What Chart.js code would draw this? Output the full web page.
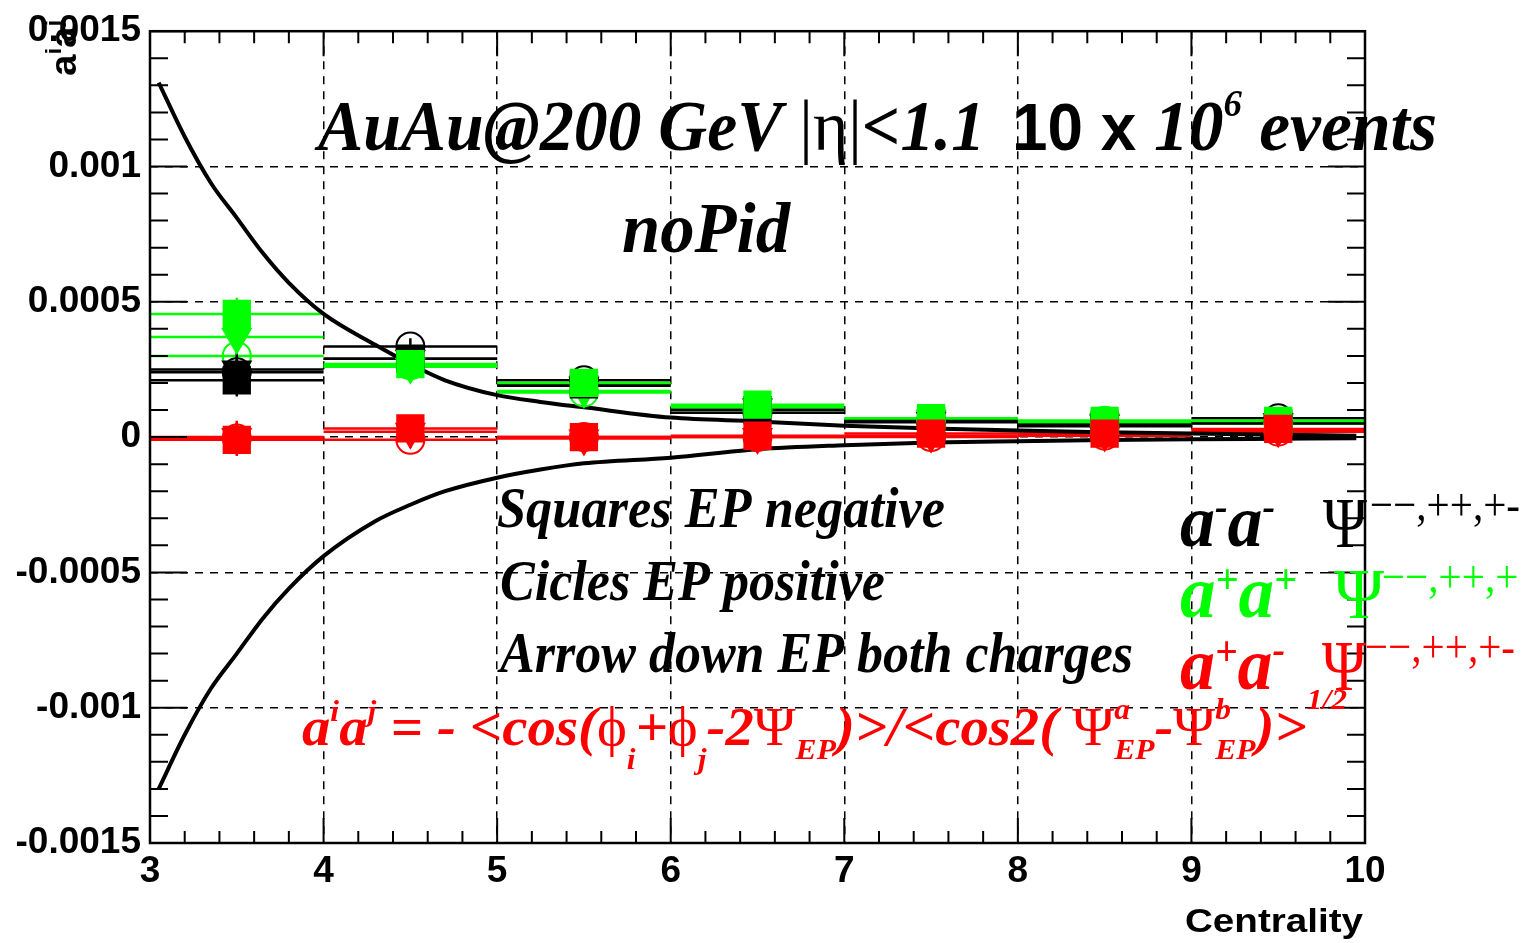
<!DOCTYPE html>
<html>
<head>
<meta charset="utf-8">
<script src="https://cdn.jsdelivr.net/npm/chart.js@4.4.1/dist/chart.umd.min.js"></script>
<style>
    html, body { margin: 0; padding: 0; background: #fff; }
    canvas { display: block; }
</style>
</head>
<body>
<canvas id="chart" width="1528" height="943"></canvas>
<script>
"use strict";

// centrality bins (bin centres, each bin is 1 wide)
const centralityBins = [3.5, 4.5, 5.5, 6.5, 7.5, 8.5, 9.5];
const binHalfWidth = 0.5;

// a-a- (black)
const negSquares = [0.00021, 0.00029, 0.000195, 0.0001, 0.00006, 0.000045, 0.00005];
const negCircles = [0.00024, 0.000335, 0.00021, 0.00009, 0.000055, 0.00004, 0.00007];
const negArrows = [0.00025, 0.00029, 0.00019, 0.00011, 0.00006, 0.00005, 0.000055];

// a+a+ (green)
const posSquares = [0.000455, 0.00027, 0.0002, 0.00012, 0.00007, 0.00006, 0.00006];
const posCircles = [0.0003, 0.000265, 0.000165, 0.0001, 0.000065, 0.00006, 0.000055];
const posArrows = [0.00037, 0.00026, 0.00017, 0.00011, 0.000068, 0.000055, 0.00005];

// a+a- (red)
const mixSquares = [-0.00001, 0.000032, 0.0, 0.000005, 0.000013, 0.000013, 0.00003];
const mixCircles = [-0.000005, -0.00001, 0.0, 0.0, 0.0, 0.000005, 0.00002];
const mixArrows = [0.0, 0.00002, -0.000005, 0.0, 0.000005, 0.00001, 0.000025];

const statErrors = [0.00006, 0.00003, 0.00002, 0.000015, 0.00001, 0.00001, 0.00001];

// the two black envelope curves
const curveX = [3.05, 3.2, 3.35, 3.5, 3.65, 3.8, 4.0, 4.3, 4.5, 4.7, 5.0, 5.25, 5.5, 6.0, 6.5, 7.0, 7.5, 8.0, 8.5, 9.0, 9.5, 9.95];
const curveUpper = [0.00131, 0.00111, 0.00094, 0.00081, 0.00068, 0.00057, 0.000455, 0.00034, 0.00027, 0.00021, 0.000155, 0.00013, 0.00011, 0.000072, 0.000058, 0.000042, 0.000032, 0.000024, 0.000018, 0.000013, 0.000009, 0.000005];
const curveLower = [-0.0013, -0.0011, -0.00093, -0.0008, -0.00067, -0.00056, -0.00044, -0.00031, -0.00025, -0.0002, -0.00015, -0.00012, -0.000097, -0.000076, -0.000045, -0.00003, -0.00002, -0.000015, -0.000011, -0.000008, -0.000006, -0.000004];

const xTickLabels = ["3", "4", "5", "6", "7", "8", "9", "10"];
const yTickLabels = ["-0.0015", "-0.001", "-0.0005", "0", "0.0005", "0.001", "0.0015"];

const BLACK = "#000000";
const GREEN = "#00ff00";
const RED = "#ff0000";

const BI = (s) => `italic bold ${s}px "Liberation Serif"`;
const UP = (s) => `${s}px "Liberation Serif"`;
const SB = (s) => `bold ${s}px "Liberation Sans"`;

function drawRuns(ctx, runs, x, y, opt) {
    const items = [];
    let cx = 0;
    let prevStart = 0;
    runs.forEach((r) => {
        ctx.font = r.font;
        const w = ctx.measureText(r.t).width;
        const start = r.over ? prevStart : cx;
        items.push({ r, start });
        if (r.over) {
            cx = Math.max(cx, start + w);
        } else {
            prevStart = start;
            cx = start + w;
        }
    });
    const sx = opt.width ? opt.width / cx : (opt.sx || 1);
    ctx.save();
    ctx.translate(x, y);
    ctx.scale(sx, 1);
    ctx.textBaseline = "alphabetic";
    ctx.textAlign = "left";
    items.forEach((it) => {
        ctx.font = it.r.font;
        ctx.fillStyle = it.r.color || opt.color || BLACK;
        ctx.fillText(it.r.t, it.start, it.r.dy || 0);
    });
    ctx.restore();
}

function markerSet(values, color, style) {
    const base = {
        type: "scatter",
        data: centralityBins.map((x, i) => ({ x, y: values[i] })),
        yErrors: statErrors,
        xHalf: binHalfWidth,
        barColor: color
    };
    if (style === "square") {
        return Object.assign(base, { pointStyle: "rect", pointRadius: 20, backgroundColor: color, borderColor: color, borderWidth: 0 });
    }
    if (style === "circle") {
        return Object.assign(base, { pointStyle: "circle", pointRadius: 14, backgroundColor: "rgba(0,0,0,0)", borderColor: color, borderWidth: 2 });
    }
    return Object.assign(base, { pointStyle: "triangle", pointRotation: 180, pointRadius: 18, backgroundColor: color, borderColor: color, borderWidth: 0 });
}

function curveSet(values) {
    return {
        type: "line",
        data: curveX.map((x, i) => ({ x, y: values[i] })),
        borderColor: BLACK,
        borderWidth: 4,
        pointRadius: 0,
        fill: false,
        showLine: true,
        cubicInterpolationMode: "monotone"
    };
}

const errorBars = {
    id: "errorBars",
    beforeDatasetsDraw(chart) {
        const { ctx, scales: { x, y } } = chart;
        ctx.save();
        ctx.lineWidth = 2.5;
        chart.data.datasets.slice().sort((a, b) => b.order - a.order).forEach((ds) => {
            if (!ds.yErrors) return;
            ctx.strokeStyle = ds.barColor;
            ds.data.forEach((p, i) => {
                const px = x.getPixelForValue(p.x);
                const py = y.getPixelForValue(p.y);
                ctx.beginPath();
                ctx.moveTo(x.getPixelForValue(p.x - ds.xHalf), py);
                ctx.lineTo(x.getPixelForValue(p.x + ds.xHalf), py);
                ctx.moveTo(px, y.getPixelForValue(p.y + ds.yErrors[i]));
                ctx.lineTo(px, y.getPixelForValue(p.y - ds.yErrors[i]));
                ctx.stroke();
            });
        });
        ctx.restore();
    }
};

const rootFrame = {
    id: "rootFrame",
    beforeDraw(chart) {
        // y title sits under the tick labels
        const { ctx } = chart;
        ctx.save();
        ctx.translate(76, 76);
        ctx.rotate(-Math.PI / 2);
        drawRuns(ctx, [
            { t: "a", font: SB(36) },
            { t: "i", font: SB(22), dy: -15 },
            { t: "a", font: SB(36) },
            { t: "j", font: SB(22), dy: -15 }
        ], 0, 0, { width: 56 });
        ctx.restore();
    },
    afterDatasetsDraw(chart) {
        const { ctx, chartArea: a, scales: { x, y } } = chart;
        ctx.save();
        ctx.strokeStyle = BLACK;
        ctx.lineWidth = 2;
        ctx.beginPath();
        for (let k = 0; k <= 35; k++) {
            const px = x.getPixelForValue(x.min + k * 0.2);
            const len = k % 5 === 0 ? 25 : 12;
            ctx.moveTo(px, a.bottom);
            ctx.lineTo(px, a.bottom - len);
            ctx.moveTo(px, a.top);
            ctx.lineTo(px, a.top + len);
        }
        for (let k = 0; k <= 30; k++) {
            const py = y.getPixelForValue(y.min + k * 0.0001);
            const len = k % 5 === 0 ? 37 : 18;
            ctx.moveTo(a.left, py);
            ctx.lineTo(a.left + len, py);
            ctx.moveTo(a.right, py);
            ctx.lineTo(a.right - len, py);
        }
        ctx.stroke();
        ctx.lineWidth = 2.5;
        ctx.strokeRect(a.left, a.top, a.width, a.height);
        ctx.restore();
    },
    afterDraw(chart) {
        const { ctx } = chart;
        ctx.save();
        drawRuns(ctx, [
            { t: "AuAu@200 GeV ", font: BI(72) },
            { t: "|η|", font: UP(72) },
            { t: "<1.1", font: BI(72) }
        ], 318, 150, { width: 667 });
        drawRuns(ctx, [
            { t: "10 x ", font: SB(66) },
            { t: "10", font: BI(72) },
            { t: "6", font: BI(38), dy: -34 },
            { t: " events", font: BI(72) }
        ], 1012, 150, { width: 425 });
        drawRuns(ctx, [{ t: "noPid", font: BI(72) }], 622, 252, { width: 168 });
        drawRuns(ctx, [{ t: "Squares EP negative", font: BI(56) }], 497, 527, { width: 448 });
        drawRuns(ctx, [{ t: "Cicles EP positive", font: BI(56) }], 500, 600, { width: 385 });
        drawRuns(ctx, [{ t: "Arrow down EP both charges", font: BI(56) }], 500, 672, { width: 633 });

        ctx.save();
        ctx.beginPath();
        ctx.rect(0, 0, 1519, 943);
        ctx.clip();
        const sup = "\u2212\u2212,++,+-";
        drawRuns(ctx, [
            { t: "a", font: BI(74) }, { t: "-", font: BI(40), dy: -26 },
            { t: "a", font: BI(74) }, { t: "-", font: BI(40), dy: -26 }
        ], 1180, 546, { width: 95, color: BLACK });
        drawRuns(ctx, [{ t: "Ψ", font: UP(72) }], 1323, 547, { width: 44, color: BLACK });
        drawRuns(ctx, [{ t: sup, font: UP(46) }], 1370, 520, { width: 150, color: BLACK });

        drawRuns(ctx, [
            { t: "a", font: BI(74) }, { t: "+", font: BI(42), dy: -24 },
            { t: "a", font: BI(74) }, { t: "+", font: BI(42), dy: -24 }
        ], 1180, 617, { width: 117, color: GREEN });
        drawRuns(ctx, [{ t: "Ψ", font: UP(72) }], 1334, 618, { width: 50, color: GREEN });
        drawRuns(ctx, [{ t: sup, font: UP(46) }], 1382, 592, { width: 150, color: GREEN });

        drawRuns(ctx, [
            { t: "a", font: BI(74) }, { t: "+", font: BI(42), dy: -24 },
            { t: "a", font: BI(74) }, { t: "-", font: BI(40), dy: -26 }
        ], 1180, 689, { width: 105, color: RED });
        drawRuns(ctx, [{ t: "Ψ", font: UP(72) }], 1322, 690, { width: 44, color: RED });
        drawRuns(ctx, [{ t: sup, font: UP(46) }], 1365, 662, { width: 150, color: RED });
        ctx.restore();

        drawRuns(ctx, [
            { t: "a", font: BI(54) }, { t: "i", font: BI(30), dy: -24 },
            { t: "a", font: BI(54) }, { t: "j", font: BI(30), dy: -24 },
            { t: " = - <cos(", font: BI(54) },
            { t: "ϕ", font: UP(54) }, { t: "i", font: BI(30), dy: 24 },
            { t: "+", font: BI(54) },
            { t: "ϕ", font: UP(54) }, { t: "j", font: BI(30), dy: 24 },
            { t: "-2", font: BI(54) },
            { t: "Ψ", font: UP(54) }, { t: "EP", font: BI(30), dy: 14 },
            { t: ")>/<cos2( ", font: BI(54) },
            { t: "Ψ", font: UP(54) }, { t: "a", font: BI(30), dy: -26 }, { t: "EP", font: BI(30), dy: 14, over: true },
            { t: "-", font: BI(54) },
            { t: "Ψ", font: UP(54) }, { t: "b", font: BI(30), dy: -26 }, { t: "EP", font: BI(30), dy: 14, over: true },
            { t: ")>", font: BI(54) },
            { t: "1/2", font: BI(30), dy: -36 }
        ], 302, 745, { width: 1045, color: RED });

        drawRuns(ctx, [{ t: "Centrality", font: SB(34) }], 1185, 932, { width: 178 });
        ctx.restore();
    }
};

// bottom-to-top drawing order
const layers = [
    curveSet(curveUpper), curveSet(curveLower),
    markerSet(negCircles, BLACK, "circle"), markerSet(posCircles, GREEN, "circle"), markerSet(mixCircles, RED, "circle"),
    markerSet(negArrows, BLACK, "arrow"), markerSet(posArrows, GREEN, "arrow"), markerSet(mixArrows, RED, "arrow"),
    markerSet(negSquares, BLACK, "square"), markerSet(posSquares, GREEN, "square"), markerSet(mixSquares, RED, "square")
];
layers.forEach((ds, i) => { ds.order = layers.length - i; });

const tickFont = { family: "Liberation Sans", weight: "bold", size: 37 };

new Chart(document.getElementById("chart").getContext("2d"), {
    type: "scatter",
    data: { datasets: layers },
    options: {
        responsive: false,
        animation: false,
        layout: { padding: { top: 20, right: 163, left: 0, bottom: 0 } },
        plugins: { legend: { display: false }, tooltip: { enabled: false } },
        scales: {
            x: {
                type: "linear",
                min: 3,
                max: 10,
                afterFit: (s) => { s.height = 100; },
                afterBuildTicks: (s) => { s.ticks = xTickLabels.map((_, i) => ({ value: 3 + i })); },
                ticks: { callback: (v, i) => xTickLabels[i], font: tickFont, color: BLACK, padding: 7, maxRotation: 0, autoSkip: false },
                grid: { color: BLACK, lineWidth: 1.5, drawTicks: false },
                border: { display: false, dash: [8, 7] }
            },
            y: {
                type: "linear",
                min: -0.0015,
                max: 0.0015,
                afterFit: (s) => { s.width = 150; },
                afterBuildTicks: (s) => { s.ticks = yTickLabels.map((_, i) => ({ value: -0.0015 + i * 0.0005 })); },
                ticks: { callback: (v, i) => yTickLabels[i], font: tickFont, color: BLACK, padding: 9, autoSkip: false },
                grid: { color: BLACK, lineWidth: 1.5, drawTicks: false },
                border: { display: false, dash: [8, 7] }
            }
        }
    },
    plugins: [errorBars, rootFrame]
});
</script>
</body>
</html>
